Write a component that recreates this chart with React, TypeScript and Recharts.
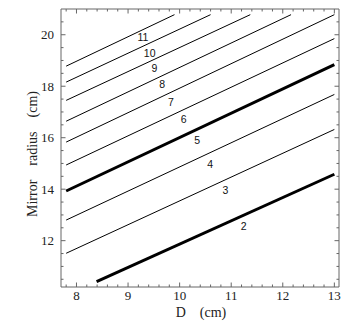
import { ComposedChart, Label, Line, ReferenceArea, Scatter, XAxis, YAxis } from 'recharts';

const W = 345;
const H = 322;
const PLOT = { top: 9, right: 339, bottom: 287, left: 61 };
const FRAME = '#666';
const SERIF = '"Liberation Serif", "DejaVu Serif", serif';
const SANS = '"Liberation Sans", Arial, sans-serif';

const xDomain = [7.7, 13.09];
const yDomain = [10.2, 21.0];
const xTicks = [7.8, 8, 8.2, 8.4, 8.6, 8.8, 9, 9.2, 9.4, 9.6, 9.8, 10, 10.2, 10.4, 10.6, 10.8, 11, 11.2, 11.4, 11.6, 11.8, 12, 12.2, 12.4, 12.6, 12.8, 13];
const xMajor = [8, 9, 10, 11, 12, 13];
const yTicks = [10.5, 11, 11.5, 12, 12.5, 13, 13.5, 14, 14.5, 15, 15.5, 16, 16.5, 17, 17.5, 18, 18.5, 19, 19.5, 20, 20.5];
const yMajor = [12, 14, 16, 18, 20];

const orders = [2, 3, 4, 5, 6, 7, 8, 9, 10, 11];
const startD = [8.39, 7.8, 7.8, 7.8, 7.8, 7.8, 7.8, 7.8, 7.8, 7.8];
const startR = [10.41, 11.51, 12.8, 13.93, 14.94, 15.83, 16.64, 17.45, 18.16, 18.78];
const endD = [13, 13, 13, 13, 13, 13, 12.16, 11.37, 10.6, 9.9];
const endR = [14.58, 16.32, 17.68, 18.84, 19.85, 20.78, 20.78, 20.78, 20.78, 20.78];
const thickOrders = [2, 5];

// where the order numbers sit
const labelD = [11.24, 10.89, 10.59, 10.34, 10.08, 9.83, 9.66, 9.51, 9.42, 9.29];
const labelR = [12.54, 13.96, 14.97, 15.91, 16.71, 17.37, 18.09, 18.71, 19.28, 19.9];

const curves = orders.map((n, i) => ({
  n,
  points: [
    { x: startD[i], y: startR[i] },
    { x: endD[i], y: endR[i] },
  ],
}));

const labels = orders.map((n, i) => ({ x: labelD[i], y: labelR[i], n }));

function XTick({ x, y, payload }: any) {
  const v = payload.value;
  const major = xMajor.includes(v);
  const len = major ? 4.5 : 2.5;
  return (
    <g>
      <line x1={x} y1={y} x2={x} y2={y - len} stroke={FRAME} />
      <line x1={x} y1={PLOT.top} x2={x} y2={PLOT.top + len} stroke={FRAME} />
      {major && (
        <text x={x} y={y + 12.5} textAnchor="middle" fontFamily={SERIF} fontSize={13} fill="#222">
          {v}
        </text>
      )}
    </g>
  );
}

function YTick({ x, y, payload }: any) {
  const v = payload.value;
  const major = yMajor.includes(v);
  const len = major ? 4.5 : 2.5;
  return (
    <g>
      <line x1={x} y1={y} x2={x + len} y2={y} stroke={FRAME} />
      <line x1={PLOT.right} y1={y} x2={PLOT.right - len} y2={y} stroke={FRAME} />
      {major && (
        <text x={x - 7} y={y} dy="0.35em" textAnchor="end" fontFamily={SERIF} fontSize={13} fill="#222">
          {v}
        </text>
      )}
    </g>
  );
}

function OrderLabel(props: any) {
  return (
    <text x={props.cx} y={props.cy} dy="0.35em" textAnchor="middle" fontFamily={SANS} fontSize={10.5} fill="#111">
      {props.payload.n}
    </text>
  );
}

export default function App() {
  return (
    <div style={{ position: 'fixed', left: 0, top: 0, background: '#fff' }}>
      <ComposedChart
        width={W}
        height={H}
        margin={{ top: PLOT.top, right: W - PLOT.right, bottom: 0, left: 0 }}
      >
        <XAxis
          type="number"
          dataKey="x"
          domain={xDomain}
          allowDataOverflow
          ticks={xTicks}
          interval={0}
          tickSize={0}
          tickMargin={0}
          tickLine={false}
          axisLine={false}
          tick={<XTick />}
          height={H - PLOT.bottom}
        >
          <Label
            content={() => (
              <text x={201} y={317} textAnchor="middle" fontFamily={SERIF} fontSize={14} fill="#222">
                {'D\u00a0\u00a0\u00a0\u00a0(cm)'}
              </text>
            )}
          />
        </XAxis>
        <YAxis
          type="number"
          dataKey="y"
          domain={yDomain}
          allowDataOverflow
          ticks={yTicks}
          interval={0}
          tickSize={0}
          tickMargin={0}
          tickLine={false}
          axisLine={false}
          tick={<YTick />}
          width={PLOT.left}
        >
          <Label
            content={() => (
              <text
                x={31.7}
                y={154}
                dy="0.35em"
                transform="rotate(-90 31.7 154)"
                textAnchor="middle"
                fontFamily={SERIF}
                fontSize={14}
                fill="#222"
              >
                {'Mirror\u00a0\u00a0\u00a0\u00a0radius\u00a0\u00a0\u00a0\u00a0(cm)'}
              </text>
            )}
          />
        </YAxis>
        <ReferenceArea
          x1={xDomain[0]}
          x2={xDomain[1]}
          y1={yDomain[0]}
          y2={yDomain[1]}
          fill="none"
          stroke={FRAME}
          strokeWidth={1}
          ifOverflow="visible"
        />
        {curves.map((c) => (
          <Line
            key={c.n}
            data={c.points}
            dataKey="y"
            type="linear"
            stroke="#000"
            strokeWidth={thickOrders.includes(c.n) ? 3 : 1}
            dot={false}
            activeDot={false}
            isAnimationActive={false}
          />
        ))}
        <Scatter data={labels} dataKey="y" shape={<OrderLabel />} isAnimationActive={false} />
      </ComposedChart>
    </div>
  );
}
